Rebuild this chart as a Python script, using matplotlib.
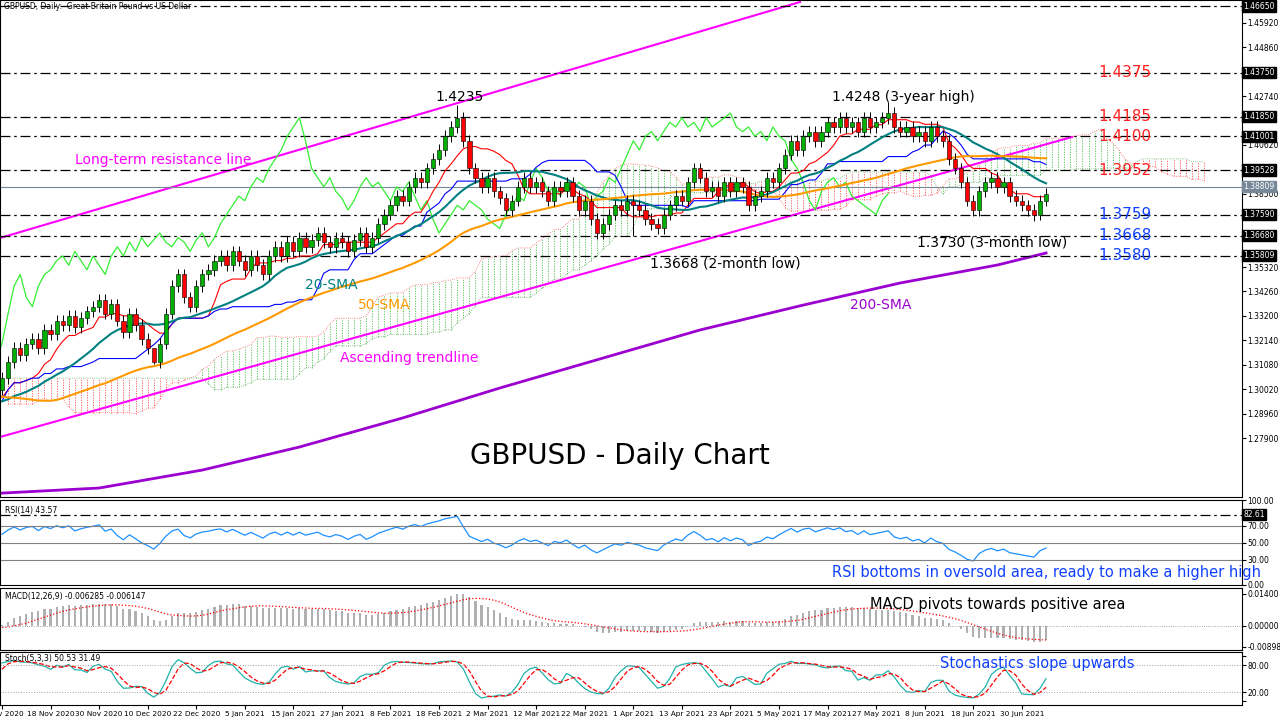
import numpy as np
import pandas as pd
import matplotlib
matplotlib.use("Agg")
import matplotlib.pyplot as plt

# ---------------- data ----------------
pre_closes = [1.330,1.330,1.320,1.330,1.335,1.340,1.335,1.330,1.325,1.310,1.290,1.285,1.280,1.285,1.290,
              1.285,1.290,1.295,1.280,1.275,1.270,1.275,1.280,1.280,1.285,1.290,1.290,1.295,1.292,1.290,
              1.292,1.295,1.290,1.298,1.300,1.296,1.292,1.290,1.295,1.298,1.300,1.296,1.292,1.290,1.294,
              1.292,1.288,1.292,1.296,1.300]
closes = [1.305,1.312,1.318,1.315,1.320, 1.322,1.318,1.326,1.324,1.330, 1.328,1.332,1.327,1.331,1.334,
          1.336,1.339,1.333,1.337,1.330, 1.325,1.333,1.328,1.322,1.318, 1.312,1.320,1.333,1.345,1.350,
          1.340,1.336,1.345,1.350,1.352, 1.356,1.358,1.354,1.360,1.356, 1.352,1.358,1.354,1.350,1.358,
          1.362,1.358,1.364,1.360,1.366, 1.362,1.365,1.368,1.364,1.362, 1.366,1.364,1.360,1.365,1.368,
          1.362,1.366,1.372,1.376,1.380, 1.384,1.382,1.388,1.392,1.390, 1.396,1.400,1.404,1.410,1.414,
          1.418,1.408,1.396,1.392,1.388, 1.392,1.386,1.383,1.378,1.382, 1.388,1.392,1.388,1.390,1.386,
          1.382,1.388,1.386,1.390,1.384, 1.378,1.382,1.374,1.368,1.372, 1.376,1.380,1.378,1.382,1.380,
          1.378,1.374,1.372,1.370,1.376, 1.380,1.384,1.382,1.390,1.396, 1.392,1.386,1.388,1.384,1.390,
          1.386,1.390,1.388,1.380,1.384, 1.386,1.392,1.390,1.396,1.402, 1.408,1.404,1.410,1.412,1.408,
          1.412,1.416,1.414,1.418,1.414, 1.416,1.412,1.418,1.414,1.416, 1.418,1.420,1.414,1.412,1.414,
          1.410,1.412,1.408,1.414,1.410, 1.408,1.400,1.396,1.390,1.382, 1.378,1.386,1.390,1.392,1.388,
          1.390,1.384,1.382,1.380,1.378, 1.376,1.382,1.385]
special_high = {75: 1.4235, 146: 1.4248, 25: 1.3180}
special_low = {104: 1.3668, 170: 1.3730, 25: 1.3110}
sma200_idx = [0, 16, 33, 49, 66, 82, 99, 115, 132, 148, 164, 172]
sma200_val = [1.2551, 1.2573, 1.2651, 1.2751, 1.2877, 1.3007, 1.3137, 1.3259, 1.3367, 1.3463, 1.3541, 1.3593]
date_labels = ["6 Nov 2020","18 Nov 2020","30 Nov 2020","10 Dec 2020","22 Dec 2020","5 Jan 2021",
               "15 Jan 2021","27 Jan 2021","8 Feb 2021","18 Feb 2021","2 Mar 2021","12 Mar 2021",
               "22 Mar 2021","1 Apr 2021","13 Apr 2021","23 Apr 2021","5 May 2021","17 May 2021",
               "27 May 2021","8 Jun 2021","18 Jun 2021","30 Jun 2021"]
level_vals = [1.46650, 1.43750, 1.41850, 1.41001, 1.39528, 1.37590, 1.36680, 1.35809]
red_levels = [("1.4375", 1.4375), ("1.4185", 1.4185), ("1.4100", 1.4100), ("1.3952", 1.3952)]
blue_levels = [("1.3759", 1.3759), ("1.3668", 1.3668), ("1.3580", 1.3580)]
axis_ticks = [1.45920, 1.44860, 1.42740, 1.40620, 1.38500, 1.35320, 1.34260, 1.33200,
              1.32140, 1.31080, 1.30020, 1.28960, 1.27900]
current_price = 1.38809

# ---------------- derived ----------------
allc = np.array(pre_closes + closes)
allo = np.concatenate([[allc[0]], allc[:-1]])
wick = 0.0025
allh = np.maximum(allo, allc) + wick
alll = np.minimum(allo, allc) - wick
npre = len(pre_closes)
for k, v in special_high.items():
    allh[npre + k] = v
for k, v in special_low.items():
    alll[npre + k] = v
s = pd.Series(allc); H = pd.Series(allh); L = pd.Series(alll)
N = len(closes)
idx = np.arange(N)
sl = slice(npre, None)
sma20 = s.rolling(20, min_periods=1).mean().values[sl]
sma50 = s.rolling(50, min_periods=1).mean().values[sl]
tenkan = ((H.rolling(9).max() + L.rolling(9).min()) / 2).values
kijun = ((H.rolling(26).max() + L.rolling(26).min()) / 2).values
spanA = (tenkan + kijun) / 2
spanB = ((H.rolling(52, min_periods=1).max() + L.rolling(52, min_periods=1).min()) / 2).values
full_x = np.arange(len(allc)) - npre + 26
delta = s.diff()
up = delta.clip(lower=0).ewm(alpha=1/14, adjust=False).mean()
dn = (-delta.clip(upper=0)).ewm(alpha=1/14, adjust=False).mean()
rsi = (100 - 100 / (1 + up / dn)).values[sl]
macd = (s.ewm(span=12, adjust=False).mean() - s.ewm(span=26, adjust=False).mean())
signal = macd.rolling(9).mean().values[sl]
macd = macd.values[sl]
ll = L.rolling(5).min(); hh = H.rolling(5).max()
kst = (100 * (s - ll).rolling(3).sum() / (hh - ll).rolling(3).sum())
dst = kst.rolling(3).mean().values[sl]
kst = kst.values[sl]

# ---------------- figure ----------------
fig = plt.figure(figsize=(12.8, 7.2), dpi=100)
W = 1242 / 1280
ax = fig.add_axes([0, 1 - 497 / 720, W, 497 / 720])
ar = fig.add_axes([0, 1 - 585 / 720, W, 85 / 720])
am = fig.add_axes([0, 1 - 650 / 720, W, 62 / 720])
ast = fig.add_axes([0, 1 - 705 / 720, W, 53 / 720])

def px2i(x):
    return (x - 2) / 6.07

def py2p(y):
    return 1.4665 - (y - 6) * 0.000434

x0, x1 = px2i(0), px2i(1242)
for a in (ax, ar, am, ast):
    a.set_xlim(x0, x1)
    a.yaxis.tick_right()
    a.tick_params(axis='y', labelsize=5.5, length=3, pad=1)
    a.set_xticks([])
    for sp in a.spines.values():
        sp.set_linewidth(0.8)
ax.set_ylim(py2p(497), py2p(0))

# cloud (vertical dotted lines per bar)
ok = ~np.isnan(spanA)
A = spanA[ok]; B = spanB[ok]; fx = full_x[ok]
gm = A >= B
ax.vlines(fx[gm], B[gm], A[gm], colors='#4fbf4f', linestyles=(0, (1.5, 1.5)), lw=0.6)
ax.vlines(fx[~gm], A[~gm], B[~gm], colors='#ff5050', linestyles=(0, (1.5, 1.5)), lw=0.6)
ax.plot(fx, A, color='#ff6060', lw=0.6, ls=':')
ax.plot(fx, B, color='#60b060', lw=0.6, ls=':')

# 200 SMA
ax.plot(sma200_idx, sma200_val, color='#9b00d0', lw=2)
# trendlines
ax.plot([px2i(0), px2i(800)], [py2p(238), py2p(2)], color='#ff00ff', lw=1.5)
ax.plot([px2i(0), px2i(1072)], [py2p(437), py2p(137)], color='#ff00ff', lw=1.5)
# horizontal levels
for v in level_vals:
    ax.axhline(v, color='black', lw=0.9, ls=(0, (8, 3, 2, 3)))
ax.axhline(current_price, color='#778899', lw=0.8)

# chikou, tenkan, kijun, SMAs
ax.plot(idx - 26, closes, color='#33ee33', lw=0.9)
ax.plot(idx, tenkan[sl], color='#ff0000', lw=0.8)
ax.plot(idx, kijun[sl], color='#0000ff', lw=0.8)
ax.plot(idx, sma20, color='#008080', lw=1.5)
ax.plot(idx, sma50, color='#ff9900', lw=1.5)

# candles
o = allo[sl]; c = allc[sl]; h = allh[sl]; l = alll[sl]
ax.vlines(idx, l, h, color='black', lw=0.7, zorder=3)
bull = c >= o
ax.bar(idx[bull], (c - o)[bull], bottom=o[bull], width=0.7, color='#00b000',
       edgecolor='black', lw=0.4, zorder=4)
ax.bar(idx[~bull], (o - c)[~bull], bottom=c[~bull], width=0.7, color='#ff0000',
       edgecolor='black', lw=0.4, zorder=4)

# right axis ticks & boxes
ax.set_yticks(axis_ticks)
ax.set_yticklabels([f"{t:.5f}" for t in axis_ticks])
for v in level_vals:
    ax.text(1.001, v, f"{v:.5f}", transform=ax.get_yaxis_transform(), fontsize=5.5,
            color='white', va='center', ha='left',
            bbox=dict(boxstyle='square,pad=0.15', fc='black', ec='black'))
ax.text(1.001, current_price, f"{current_price:.5f}", transform=ax.get_yaxis_transform(),
        fontsize=5.5, color='white', va='center', ha='left',
        bbox=dict(boxstyle='square,pad=0.15', fc='#778899', ec='#778899'))

# annotations
fs = 10
ax.text(px2i(4), py2p(2), "GBPUSD, Daily:  Great Britain Pound vs US Dollar", fontsize=5.5, va='top')
ax.text(px2i(460), py2p(97), "1.4235", fontsize=fs, ha='center', va='center')
ax.text(px2i(903), py2p(97), "1.4248 (3-year high)", fontsize=fs, ha='center', va='center')
ax.text(px2i(75), py2p(160), "Long-term resistance line", fontsize=fs, color='#ff00ff', va='center')
ax.text(px2i(305), py2p(285), "20-SMA", fontsize=fs, color='#008080', va='center')
ax.text(px2i(358), py2p(305), "50-SMA", fontsize=fs, color='#ff9900', va='center')
ax.text(px2i(340), py2p(358), "Ascending trendline", fontsize=fs, color='#ff00ff', va='center')
ax.text(px2i(620), py2p(456), "GBPUSD - Daily Chart", fontsize=20, ha='center', va='center')
ax.text(px2i(650), py2p(263), "1.3668 (2-month low)", fontsize=fs, va='center')
ax.text(px2i(917), py2p(243), "1.3730 (3-month low)", fontsize=fs, va='center')
ax.text(px2i(850), py2p(305), "200-SMA", fontsize=fs, color='#9b00d0', va='center')
for t, v in red_levels:
    ax.text(px2i(1098), v, t, fontsize=11, color='#ff2020', va='center')
for t, v in blue_levels:
    ax.text(px2i(1098), v, t, fontsize=11, color='#1040ff', va='center')

# RSI
ar.set_ylim(0, 100)
ar.plot(idx, rsi, color='#1e90ff', lw=0.9)
for v in (70, 50, 30):
    ar.axhline(v, color='#808080', lw=0.8)
ar.axhline(82.61, color='black', lw=0.9, ls=(0, (8, 3, 2, 3)))
ar.set_yticks([100, 70, 50, 30, 0])
ar.set_yticklabels(["100.00", "70.00", "50.00", "30.00", "0.00"])
ar.text(1.001, 82.61, "82.61", transform=ar.get_yaxis_transform(), fontsize=5.5, color='white',
        va='center', bbox=dict(boxstyle='square,pad=0.15', fc='black', ec='black'))
ar.text(0.004, 0.93, f"RSI(14) {rsi[-1]:.2f}", transform=ar.transAxes, fontsize=5.5, va='top')
ar.text(px2i(832), 15, "RSI bottoms in oversold area, ready to make a higher high",
        fontsize=10.5, color='#1040ff', va='center')

# MACD
am.bar(idx, macd, width=0.35, color='#b0b0b0')
am.plot(idx, signal, color='red', lw=0.9, ls=':')
am.axhline(0, color='#8090a0', lw=0.6, ls=':')
am.set_ylim(-0.0105, 0.0165)
am.set_yticks([0.014, 0.0, -0.008982])
am.set_yticklabels(["0.01400", "0.00000", "-0.00898"])
am.text(0.004, 0.93, f"MACD(12,26,9) {macd[-1]:.6f} {signal[-1]:.6f}", transform=am.transAxes,
        fontsize=5.5, va='top')
am.text(px2i(870), 0.0095, "MACD pivots towards positive area", fontsize=10.5, va='center')

# Stochastic
ast.set_ylim(-8, 110)
ast.plot(idx, kst, color='#20b2aa', lw=0.9)
ast.plot(idx, dst, color='red', lw=0.9, ls='--')
ast.axhline(80, color='#a0a0a0', lw=0.7, ls=':')
ast.axhline(20, color='#a0a0a0', lw=0.7, ls=':')
ast.set_yticks([100, 80, 20, 0])
ast.set_yticklabels(["", "80.00", "20.00", ""])
ast.text(0.004, 0.97, f"Stoch(5,3,3) {kst[-1]:.2f} {dst[-1]:.2f}", transform=ast.transAxes,
         fontsize=5.5, va='top')
ast.text(px2i(940), 85, "Stochastics slope upwards", fontsize=10.5, color='#1040ff', va='center')
ast.set_xticks(np.arange(len(date_labels)) * 8)
ast.set_xticklabels(date_labels, fontsize=5.3)
ast.tick_params(axis='x', length=3, pad=1)

fig.savefig("out.png", dpi=100)
